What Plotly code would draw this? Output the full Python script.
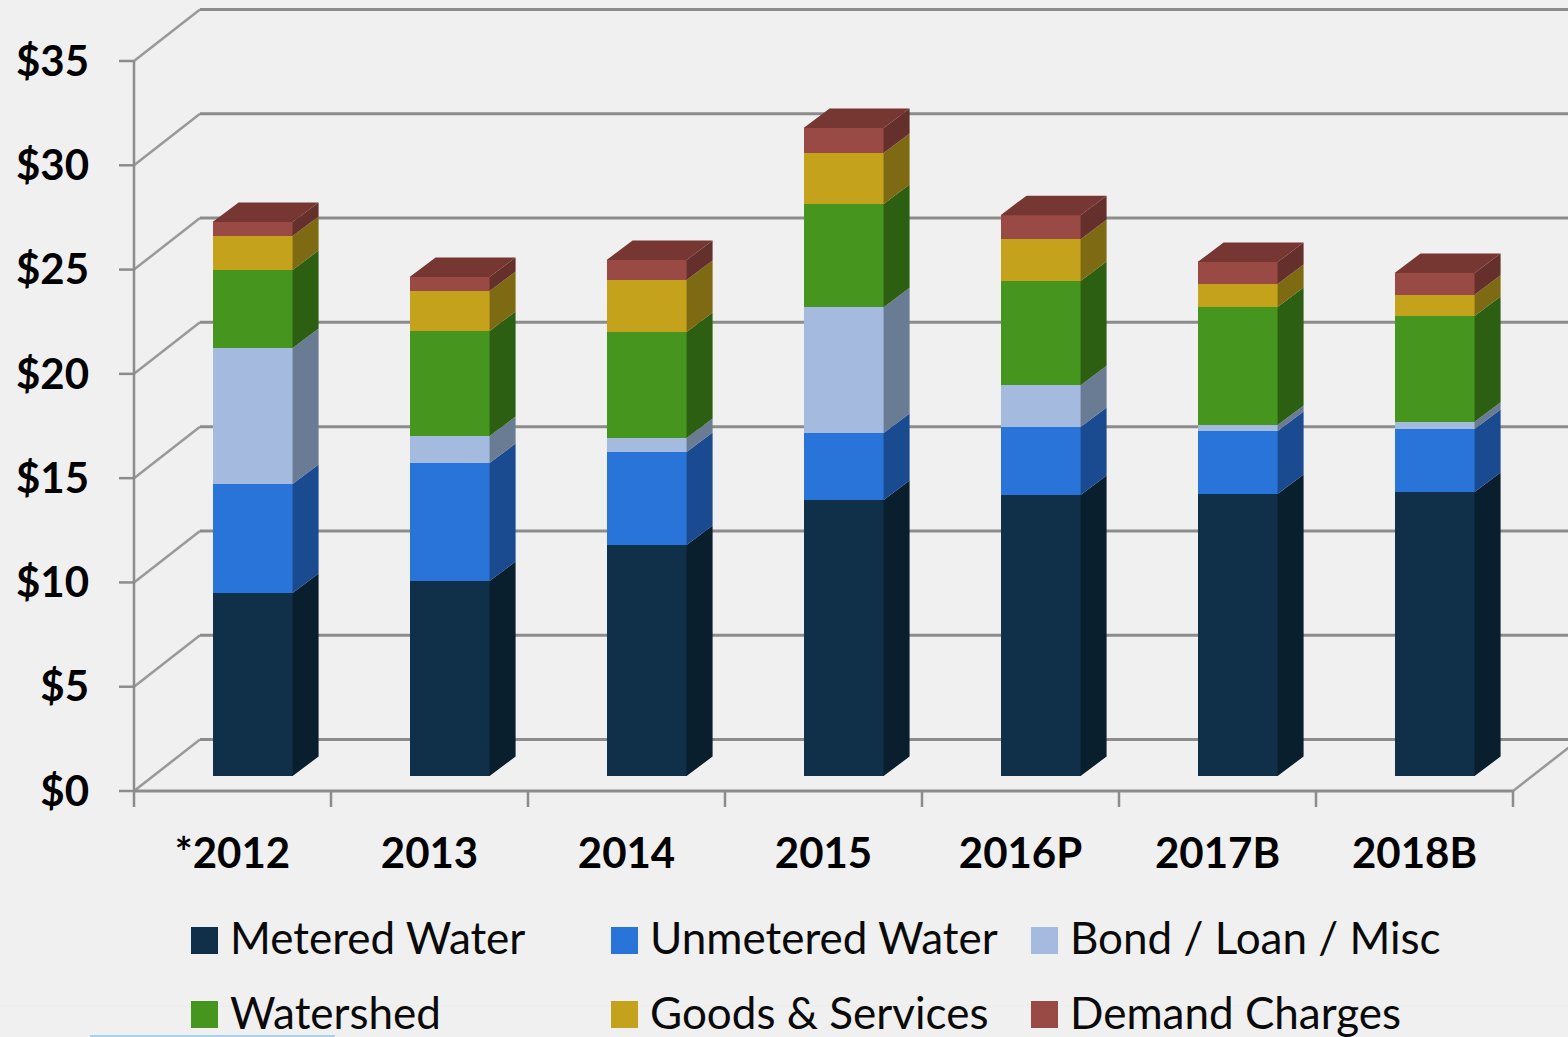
import plotly.graph_objects as go

# ---- data ($ millions) ----
categories = ["*2012", "2013", "2014", "2015", "2016P", "2017B", "2018B"]
metered = [8.77, 9.35, 11.08, 13.23, 13.47, 13.52, 13.62]
unmetered = [5.23, 5.66, 4.46, 3.21, 3.26, 3.02, 3.02]
bond = [6.52, 1.29, 0.67, 6.04, 2.01, 0.29, 0.34]
watershed = [3.74, 5.03, 5.08, 4.94, 4.99, 5.66, 5.08]
goods = [1.63, 1.92, 2.49, 2.45, 2.01, 1.10, 1.01]
demand = [0.67, 0.67, 0.96, 1.20, 1.15, 1.05, 1.05]
y_ticks = [0, 5, 10, 15, 20, 25, 30, 35]

series_names = ["Metered Water", "Unmetered Water", "Bond / Loan / Misc",
                "Watershed", "Goods & Services", "Demand Charges"]
series_vals = [metered, unmetered, bond, watershed, goods, demand]
front_cols = ["#10304A", "#2874D9", "#A4BBDF", "#46951E", "#C4A21C", "#9A4A44"]
side_cols = ["#0A1F2E", "#1A4A90", "#6A7B94", "#2C5F12", "#7E6A12", "#652F2C"]
top_col = "#763631"
bg = "#F0F0F0"
axis_col = "#8C8C8C"

# ---- geometry of the fake 3-D projection ----
W, H = 1568, 1037
PX_X = 197.0       # px per category
PX_Y = 20.857      # px per dollar
L, B = 119, 807    # plot-area left / bottom in px
AX0_X, AX0_Y = 134, 791
x0 = -(AX0_X - L) / PX_X
x1 = (W - AX0_X) / PX_X
y0 = -(B - AX0_Y) / PX_Y
y1 = AX0_Y / PX_Y
WALL_DX, WALL_DY = 66 / PX_X, 51.5 / PX_Y
BAR_OFF = 0.602
BAR_W = 80 / PX_X
BAR_DX, BAR_DY = 26 / PX_X, 19.5 / PX_Y
FLOOR = 15 / PX_Y
n = len(categories)

fig = go.Figure()

# front faces
cum = [FLOOR] * n
tops = []
for name, vals, col in zip(series_names, series_vals, front_cols):
    fig.add_trace(go.Bar(
        x=[i + BAR_OFF for i in range(n)], y=vals, base=list(cum), width=BAR_W,
        name=name, marker=dict(color=col, line=dict(width=0)), showlegend=False,
        customdata=categories,
        hovertemplate="%{customdata}<br>" + name + ": $%{y:.2f}<extra></extra>"))
    new = [c + v for c, v in zip(cum, vals)]
    tops.append((list(cum), new))
    cum = new

# side faces
for (lo, hi), col in zip(tops, side_cols):
    xs, ys = [], []
    for i in range(n):
        r = i + BAR_OFF + BAR_W / 2
        xs += [r, r + BAR_DX, r + BAR_DX, r, r, None]
        ys += [lo[i], lo[i] + BAR_DY, hi[i] + BAR_DY, hi[i], lo[i], None]
    fig.add_trace(go.Scatter(x=xs, y=ys, mode="lines", fill="toself", fillcolor=col,
                             line=dict(width=0, color=col), hoverinfo="skip",
                             showlegend=False))
# top faces
xs, ys = [], []
for i in range(n):
    l, r, t = i + BAR_OFF - BAR_W / 2, i + BAR_OFF + BAR_W / 2, cum[i]
    xs += [l, r, r + BAR_DX, l + BAR_DX, l, None]
    ys += [t, t, t + BAR_DY, t + BAR_DY, t, None]
fig.add_trace(go.Scatter(x=xs, y=ys, mode="lines", fill="toself", fillcolor=top_col,
                         line=dict(width=0, color=top_col), hoverinfo="skip",
                         showlegend=False))

# ---- axes furniture, walls and grid ----
shapes = []
def seg(xa, ya, xb, yb, w=3, c=axis_col):
    shapes.append(dict(type="line", xref="x", yref="y", x0=xa, y0=ya, x1=xb, y1=yb,
                       layer="below", line=dict(color=c, width=w)))

for t in y_ticks:
    seg(x0, t, 0, t, 2.5)                                   # tick mark
    seg(0, t, WALL_DX, t + WALL_DY, 2.5, "#999999")          # side wall
    seg(WALL_DX, t + WALL_DY, x1, t + WALL_DY, 3)            # back wall
seg(0, 0, 0, y_ticks[-1], 2.5)                               # front vertical axis
seg(0, 0, n, 0, 3)                                           # front floor line
seg(n, 0, n + WALL_DX, WALL_DY, 2.5, "#999999")              # right floor edge
for i in range(n + 1):
    seg(i, 0, i, y0, 2.5)                                    # category ticks

# ---- hand-built legend (swatches larger than the library allows) ----
PW, PH = W - L, B
def px(x): return (x - L) / PW
def py(y): return 1 - y / PH

# faint artefacts along the bottom of the picture
shapes.append(dict(type="line", xref="paper", yref="paper", x0=px(0), x1=px(W),
                   y0=py(1006), y1=py(1006), layer="below",
                   line=dict(color="#EBEBEB", width=1)))
shapes.append(dict(type="line", xref="paper", yref="paper", x0=px(90), x1=px(335),
                   y0=py(1036), y1=py(1036), line=dict(color="#A9D3EC", width=2)))

annos = []
col_x = [191, 611, 1031]
row_y = [940.5, 1014.5]
SW = 27
for k, (name, col) in enumerate(zip(series_names, front_cols)):
    cx, cy = col_x[k % 3], row_y[k // 3]
    shapes.append(dict(type="rect", xref="paper", yref="paper",
                       x0=px(cx), x1=px(cx + SW), y0=py(cy + SW / 2), y1=py(cy - SW / 2),
                       fillcolor=col, line=dict(width=0)))
    annos.append(dict(text=name, xref="paper", yref="paper", x=px(cx + 37), y=py(cy - 3),
                      xanchor="left", yanchor="middle", showarrow=False,
                      font=dict(family="Lato", size=44, color="#0A0A0A")))

fig.update_layout(
    width=W, height=H, paper_bgcolor=bg, plot_bgcolor=bg,
    margin=dict(l=L, r=0, t=0, b=H - B, pad=0),
    barmode="overlay", bargap=0, showlegend=False,
    shapes=shapes, annotations=annos,
    font=dict(family="Lato", color="#000000"),
    xaxis=dict(range=[x0, x1], tickmode="array",
               tickvals=[i + 0.5 for i in range(n)], ticktext=categories,
               ticks="", showgrid=False, zeroline=False, showline=False,
               ticklabelstandoff=18,
               tickfont=dict(family="Lato", size=42, weight="bold", color="#000000")),
    yaxis=dict(range=[y0, y1], tickmode="array", tickvals=y_ticks,
               ticktext=[f"${t}" for t in y_ticks],
               ticks="", showgrid=False, zeroline=False, showline=False,
               ticklabelstandoff=29,
               tickfont=dict(family="Lato", size=42, weight="bold", color="#000000")),
)
fig.write_html("out.html", config=dict(displayModeBar=False),
               post_script="document.body.style.margin='0';document.body.style.overflow='hidden';document.body.style.background='#F0F0F0';")
